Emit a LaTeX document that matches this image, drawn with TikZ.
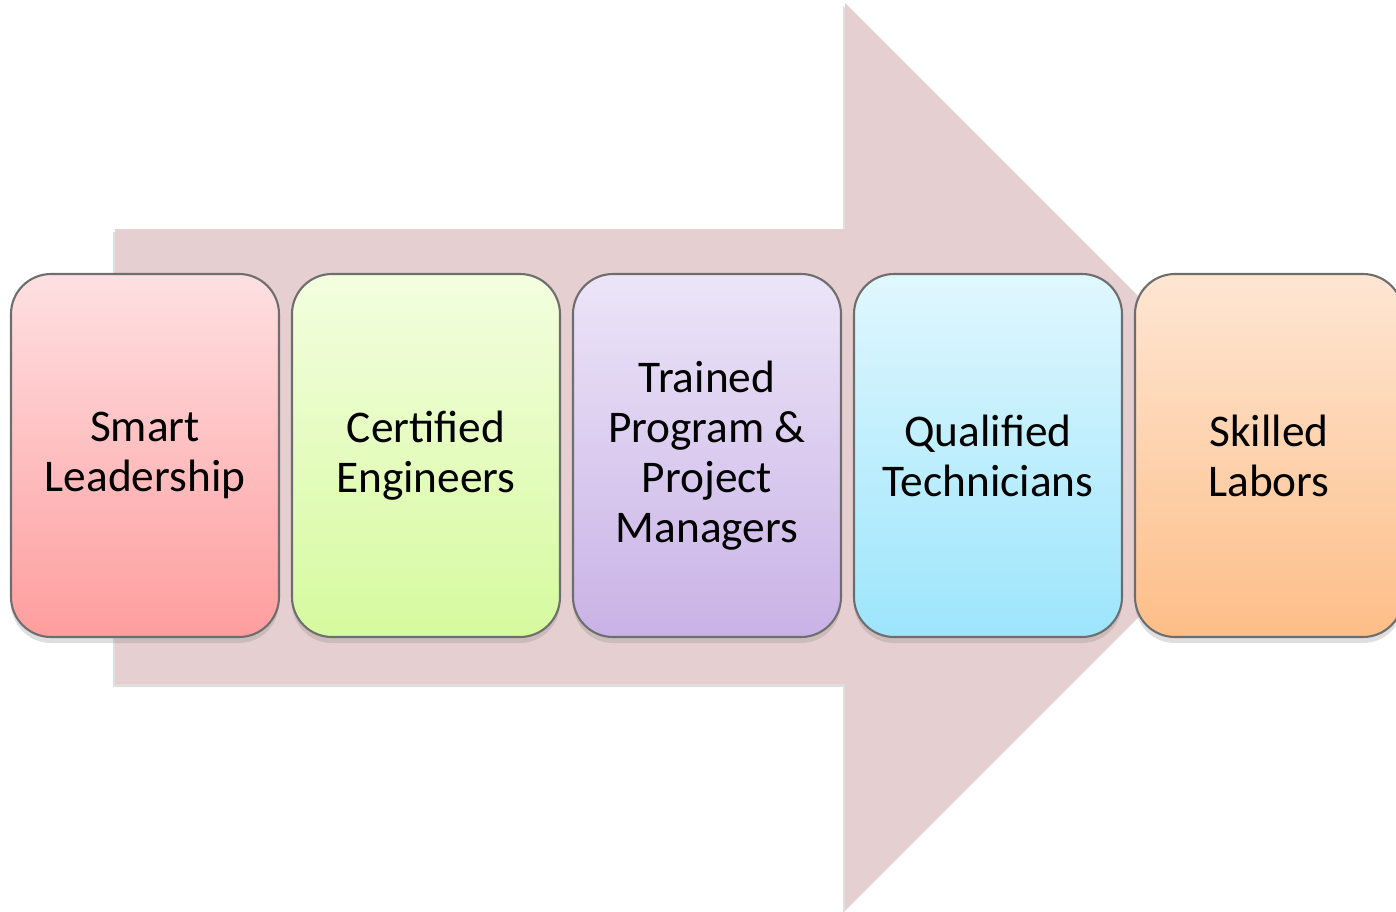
\documentclass[tikz,border=0pt]{standalone}
\usepackage{fontspec}
\setmainfont{Carlito}
\usetikzlibrary{positioning,shadows}
\definecolor{arrowpink}{HTML}{E6CFD0}
\definecolor{edgegray}{HTML}{6E6E6E}
\definecolor{smarttop}{HTML}{FEE0E2}  \definecolor{smartbot}{HTML}{FE9D9E}
\definecolor{certtop}{HTML}{F3FEDF}   \definecolor{certbot}{HTML}{D6FA9E}
\definecolor{traintop}{HTML}{ECE5F8}  \definecolor{trainbot}{HTML}{C9B2E6}
\definecolor{qualtop}{HTML}{E0F7FE}   \definecolor{qualbot}{HTML}{9DE5FC}
\definecolor{skilltop}{HTML}{FEE6D3}  \definecolor{skillbot}{HTML}{FDBE88}
\tikzset{
  stagebox/.style 2 args={draw=edgegray, line width=0.6pt, rounded corners=4mm,
    top color=#1, bottom color=#2, minimum width=26.8mm, minimum height=36.3mm,
    inner sep=0pt, outer sep=0pt, align=center, font=\fontsize{12.9}{14.2}\selectfont,
    drop shadow={shadow xshift=0mm, shadow yshift=-0.6mm, opacity=.25}},
}
\begin{document}
\begin{tikzpicture}[x=0.1mm,y=-0.1mm]
\clip (0,0) rectangle (1396,911);
% big arrow behind the stages
\fill[arrowpink, drop shadow={shadow xshift=-0.2mm, shadow yshift=-0.3mm, opacity=.25}]
  (115,229) -- (845,229) -- (845,3) -- (1298.5,456.5) -- (845,910) -- (845,684) -- (115,684) -- cycle;
\node[stagebox={smarttop}{smartbot}] (smart) at (145,455.5) {Smart\\Leadership};
\node[stagebox={certtop}{certbot}, right=1.3mm of smart] (certified) {Certified\\Engineers};
\node[stagebox={traintop}{trainbot}, right=1.3mm of certified] (trained) {Trained\\Program \&\\Project\\Managers};
\node[stagebox={qualtop}{qualbot}, right=1.3mm of trained] (qualified) {Qualified\\Technicians};
\node[stagebox={skilltop}{skillbot}, right=1.3mm of qualified] (skilled) {Skilled\\Labors};
\end{tikzpicture}
\end{document}
